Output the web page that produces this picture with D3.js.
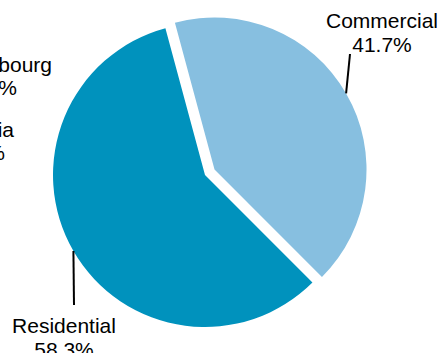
<!DOCTYPE html>
<html>
<head>
<meta charset="utf-8">
<script src="https://cdn.jsdelivr.net/npm/d3@7"></script>
<style>
  body { margin: 0; background: #fff; }
  text { font-family: "Liberation Sans", Arial, sans-serif; font-size: 21px; fill: #000; }
</style>
</head>
<body>
<svg id="chart"></svg>
<script>
// pie data
var categories = ["Commercial", "Residential"];
var values = [41.7, 58.3];
var colors = ["#87bfe0", "#0092bd"];

// labels of the neighbouring chart, cut off at the left edge
var sideNames = ["Luxembourg", "Croatia"];
var sidePcts = ["0.2%", "0.4%"];

var svgWidth = 442, svgHeight = 353;
var cx = 205, cy = 175, radius = 152, explode = 11;

var svg = d3.select("#chart")
  .attr("width", svgWidth)
  .attr("height", svgHeight);

var pie = d3.pie()
  .sort(null)
  .startAngle(-15.1 * Math.PI / 180)
  .endAngle((360 - 15.1) * Math.PI / 180)
  .value(function (d) { return d; });

var arc = d3.arc()
  .innerRadius(0)
  .outerRadius(radius);

var slices = pie(values);

function offset(d) {
  // only the commercial slice is pulled out
  if (d.index !== 0) return [0, 0];
  var mid = (d.startAngle + d.endAngle) / 2;
  return [Math.sin(mid) * explode, -Math.cos(mid) * explode];
}

svg.selectAll("path.slice")
  .data(slices)
  .enter()
  .append("path")
  .attr("class", "slice")
  .attr("d", arc)
  .attr("fill", function (d, i) { return colors[i]; })
  .attr("transform", function (d) {
    var o = offset(d);
    return "translate(" + (cx + o[0]) + "," + (cy + o[1]) + ")";
  });

// label layout: [text x, first baseline, leader end x, leader end y]
var labelPos = [[382, 28, 350, 54], [64, 333, 74, 305]];

slices.forEach(function (d, i) {
  var mid = (d.startAngle + d.endAngle) / 2;
  var o = offset(d);
  var sx = cx + o[0] + Math.sin(mid) * radius;
  var sy = cy + o[1] - Math.cos(mid) * radius;
  var p = labelPos[i];

  svg.append("line")
    .attr("x1", sx).attr("y1", sy)
    .attr("x2", p[2]).attr("y2", p[3])
    .attr("stroke", "#000")
    .attr("stroke-width", 2);

  var t = svg.append("text")
    .attr("text-anchor", "middle")
    .attr("x", p[0])
    .attr("y", p[1]);
  t.append("tspan").attr("x", p[0]).text(categories[i]);
  t.append("tspan").attr("x", p[0]).attr("dy", 24).text(values[i].toFixed(1) + "%");
});

// cut-off labels on the left
var sideX = [[52, 17], [14, 5]];
var sideY = [72, 137];
sideNames.forEach(function (name, i) {
  svg.append("text")
    .attr("text-anchor", "end")
    .attr("x", sideX[i][0])
    .attr("y", sideY[i])
    .text(name);
  svg.append("text")
    .attr("text-anchor", "end")
    .attr("x", sideX[i][1])
    .attr("y", sideY[i] + 23)
    .text(sidePcts[i]);
});
</script>
</body>
</html>
